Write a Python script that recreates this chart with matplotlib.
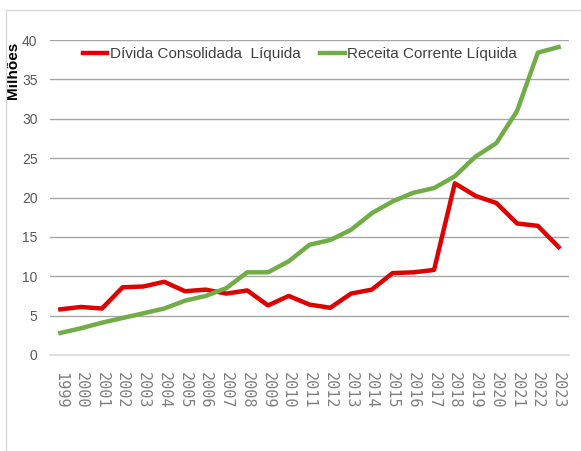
import matplotlib.pyplot as plt
from matplotlib.lines import Line2D

# dados (milhões)
anos = [str(a) for a in range(1999, 2024)]
divida = [5.8, 6.1, 5.9, 8.6, 8.7, 9.3, 8.1, 8.3, 7.8, 8.2, 6.3, 7.5, 6.4, 6.0,
          7.8, 8.3, 10.4, 10.5, 10.8, 21.8, 20.2, 19.3, 16.7, 16.4, 13.7]
receita = [2.8, 3.4, 4.1, 4.7, 5.3, 5.9, 6.9, 7.5, 8.5, 10.5, 10.5, 11.9, 14.0, 14.6,
           15.9, 18.0, 19.5, 20.6, 21.2, 22.7, 25.2, 26.9, 31.0, 38.4, 39.1]
yticks = [0, 5, 10, 15, 20, 25, 30, 35, 40]

fonte = ['Liberation Sans', 'DejaVu Sans']
cinza = '#595959'

fig = plt.figure(figsize=(5.81, 4.51), dpi=100)
ax = fig.add_axes([50 / 581, 1 - 355 / 451, 519 / 581, 315 / 451])

x = range(len(anos))
ax.plot(x, divida, color='#e00000', lw=3.2, solid_joinstyle='round', label='Dívida Consolidada  Líquida')
ax.plot(x, receita, color='#70ad47', lw=3.2, solid_joinstyle='round', label='Receita Corrente Líquida')

ax.set_xlim(-0.5, len(anos) - 0.5)
ax.set_ylim(0, 40)
ax.set_yticks(yticks)
ax.set_yticklabels([str(t) for t in yticks], family=fonte, fontsize=10, color=cinza)
ax.set_xticks(list(x))
ax.set_xticklabels(anos, rotation=270, family='DejaVu Sans Mono', fontsize=11, color='#7f7f7f')
ax.tick_params(length=0)
ax.tick_params(axis='y', pad=9)
ax.tick_params(axis='x', pad=12)

for t in yticks[1:]:
    ax.axhline(t, color='#a6a6a6', lw=1, zorder=0)
for s in ['top', 'right', 'left']:
    ax.spines[s].set_visible(False)
ax.spines['bottom'].set_color('#d9d9d9')
ax.spines['bottom'].set_linewidth(1.2)

ax.set_ylabel('Milhões', fontsize=11, fontweight='bold', family=fonte)
ax.yaxis.set_label_coords(-0.057, 0.905)

leg = ax.legend(loc='upper left', bbox_to_anchor=((83 - 50) / 519, 0.978), ncol=2, frameon=False,
                prop={'family': fonte, 'size': 11}, handlelength=1.6, handletextpad=0.15,
                columnspacing=1.3, borderpad=0, borderaxespad=0)
for t in leg.get_texts():
    t.set_color('#404040')

# moldura do gráfico
fig.add_artist(Line2D([6 / 581, 1], [1 - 10 / 451, 1 - 10 / 451], color='#d9d9d9', lw=1))
fig.add_artist(Line2D([6 / 581, 6 / 581], [0, 1 - 10 / 451], color='#d9d9d9', lw=1))

fig.savefig('out.png', dpi=100)
